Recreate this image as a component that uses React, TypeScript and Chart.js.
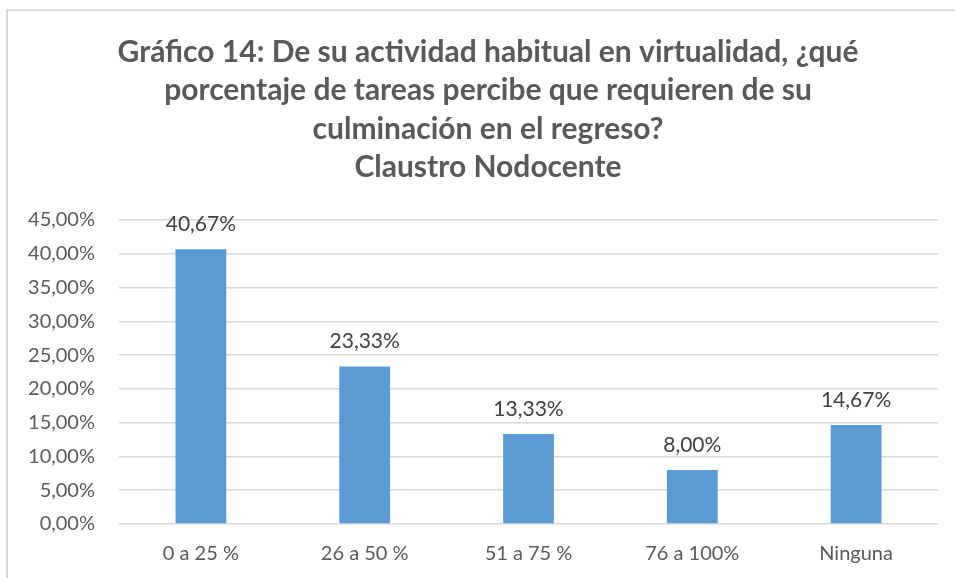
import React, { useEffect, useRef } from "react";
import { Chart, registerables } from "chart.js";

Chart.register(...registerables);

const categories = ["0 a 25 %", "26 a 50 %", "51 a 75 %", "76 a 100%", "Ninguna"];
const values = [40.67, 23.33, 13.33, 8.0, 14.67];
const titleLines = [
  "Gráfico 14: De su actividad habitual en virtualidad, ¿qué",
  "porcentaje de tareas percibe que requieren de su",
  "culminación en el regreso?",
  "Claustro Nodocente",
];

const FONT = "Lato";

const fmt = (v: number) => v.toFixed(2).replace(".", ",") + "%";

const dataLabelPlugin = {
  id: "dataLabels",
  afterDatasetsDraw(chart: any) {
    const ctx = chart.ctx;
    const meta = chart.getDatasetMeta(0);
    ctx.save();
    ctx.font = `21px ${FONT}`;
    ctx.fillStyle = "#404040";
    ctx.textAlign = "center";
    ctx.textBaseline = "alphabetic";
    meta.data.forEach((bar: any, i: number) => {
      ctx.fillText(fmt(values[i]), bar.x, bar.y - 18);
    });
    ctx.restore();
  },
};

const titlePlugin = {
  id: "customTitle",
  afterDraw(chart: any) {
    const ctx = chart.ctx;
    ctx.save();
    ctx.font = `bold 30px ${FONT}`;
    ctx.fillStyle = "#595959";
    ctx.textAlign = "center";
    ctx.textBaseline = "alphabetic";
    titleLines.forEach((line, i) => {
      ctx.fillText(line, 488, 62 + i * 38.4);
    });
    ctx.restore();
  },
};

export default function App() {
  const ref = useRef<HTMLCanvasElement>(null);
  useEffect(() => {
    document.body.style.margin = "0";
    const chart = new Chart(ref.current!, {
      type: "bar",
      data: {
        labels: categories,
        datasets: [
          {
            data: values,
            backgroundColor: "#5b9bd5",
            barPercentage: 0.31,
            categoryPercentage: 1,
          },
        ],
      },
      options: {
        animation: false,
        responsive: false,
        layout: { padding: { left: 14, right: 17, top: 220, bottom: 0 } },
        plugins: {
          legend: { display: false },
          tooltip: { enabled: false },
          title: { display: false },
        },
        scales: {
          x: {
            grid: { display: false, drawTicks: false },
            border: { display: false },
            afterFit: (s: any) => {
              s.height = 54;
            },
            ticks: { color: "#595959", font: { family: FONT, size: 20 }, padding: 18, maxRotation: 0 },
          },
          y: {
            min: 0,
            max: 45,
            afterFit: (s: any) => {
              s.width = 105;
            },
            ticks: {
              stepSize: 5,
              color: "#595959",
              font: { family: FONT, size: 20 },
              padding: 24,
              callback: (v: any) => fmt(Number(v)),
            },
            grid: { color: "#d9d9d9", lineWidth: 1.5, drawTicks: false },
            border: { display: false },
          },
        },
      },
      plugins: [dataLabelPlugin, titlePlugin],
    });
    return () => chart.destroy();
  }, []);
  return (
    <div style={{ position: "relative", width: 955, height: 578, background: "#fff", overflow: "hidden" }}>
      <div
        style={{
          position: "absolute",
          left: 6,
          top: 9,
          width: 1000,
          height: 1000,
          border: "2px solid #d9d9d9",
          boxSizing: "border-box",
        }}
      />
      <canvas ref={ref} width={955} height={578} style={{ position: "absolute", left: 0, top: 0 }} />
    </div>
  );
}
